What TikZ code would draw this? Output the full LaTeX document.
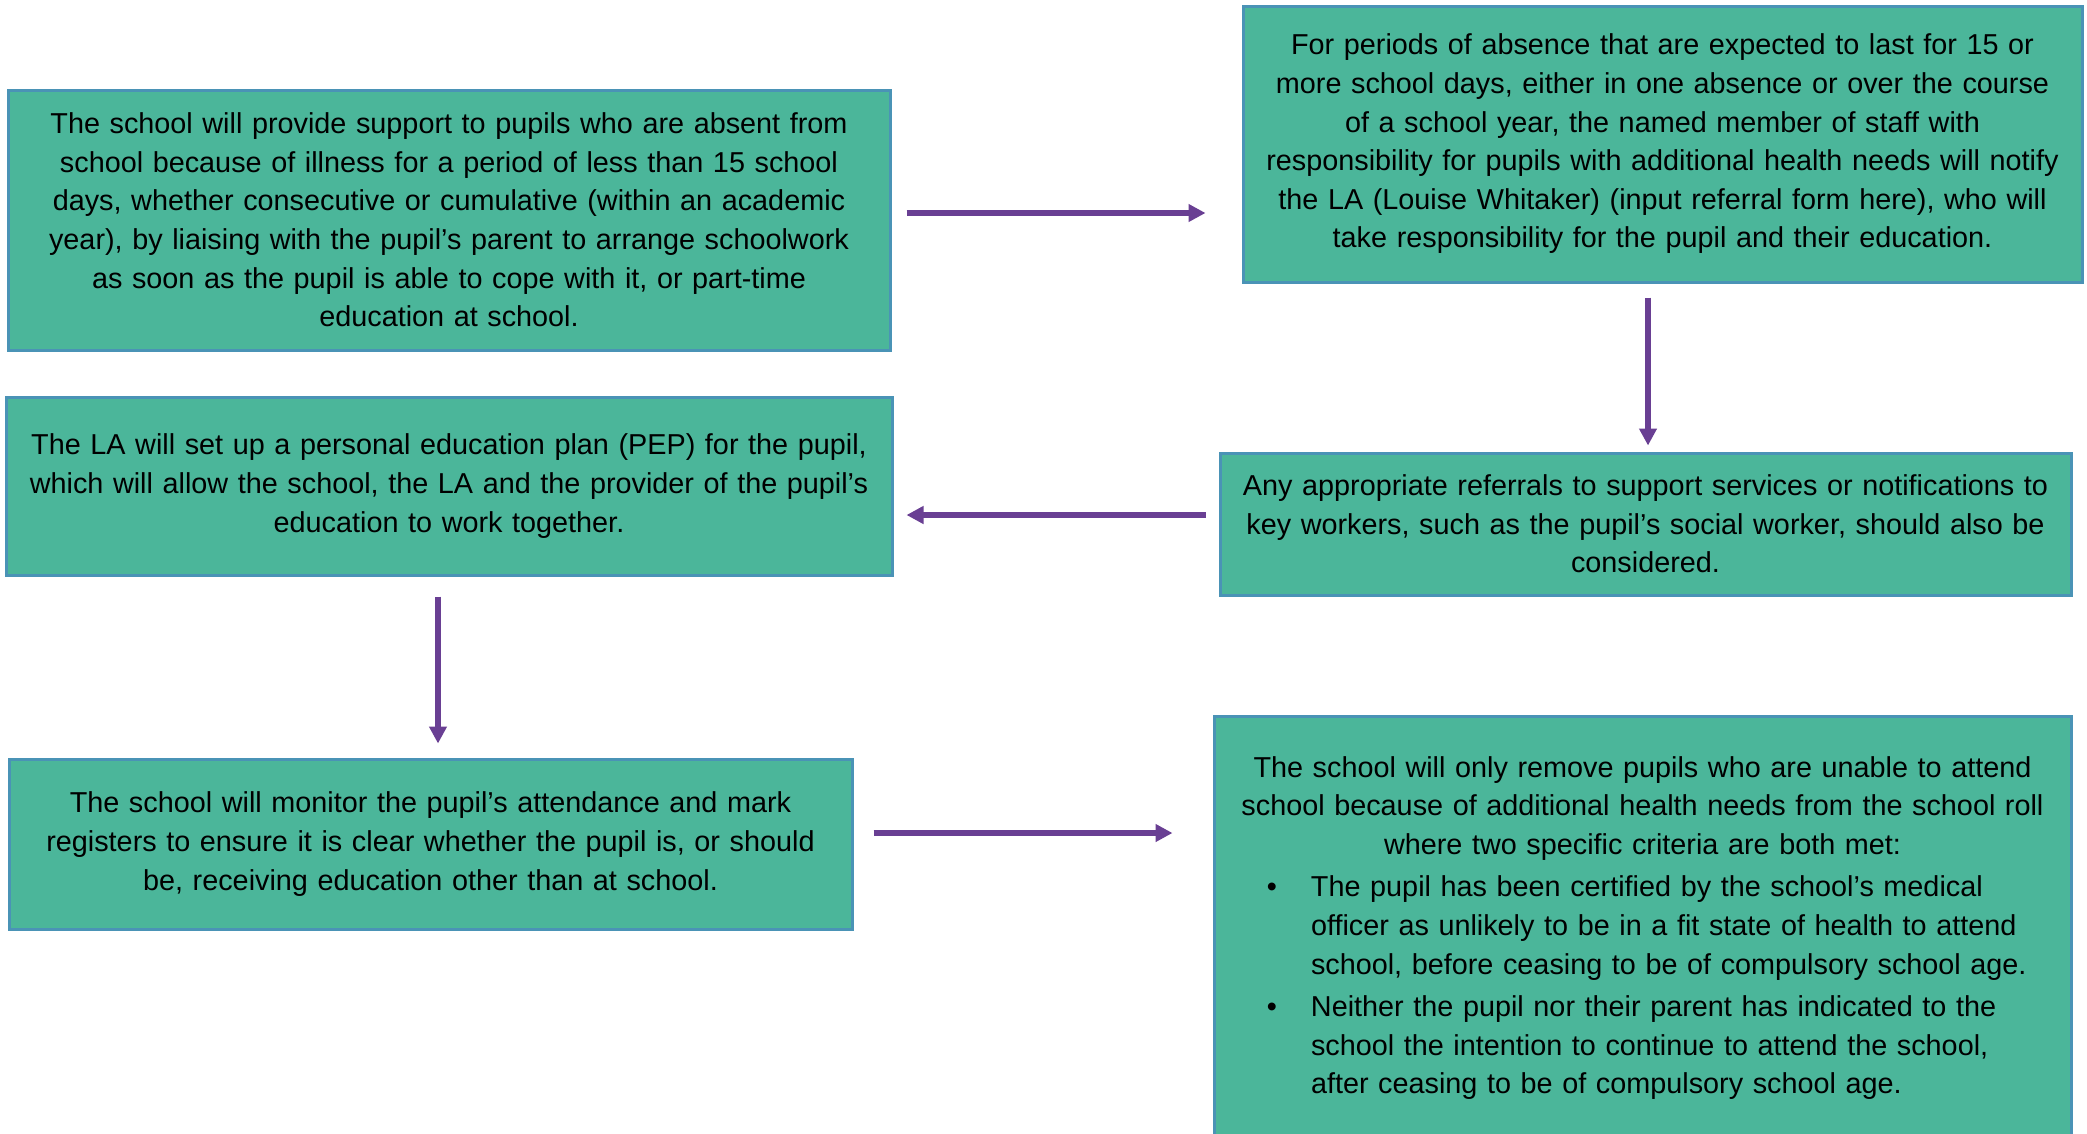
\documentclass[tikz,border=0pt]{standalone}
\usepackage{fontspec}
\setmainfont{Liberation Sans}
\usetikzlibrary{arrows.meta}
\definecolor{boxfill}{HTML}{4BB69A}
\definecolor{boxline}{HTML}{4A93B6}
\definecolor{arrowcol}{HTML}{693F93}
\begin{document}
\begin{tikzpicture}[x=1pt,y=-1pt,
  box/.style={draw=boxline, fill=boxfill, line width=3pt, rectangle, inner sep=0pt,
    font=\fontsize{28.8}{38.6}\selectfont},
  flow/.style={draw=arrowcol, line width=6pt, -{Triangle[length=17pt,width=17pt]}}]
\useasboundingbox (0,0) rectangle (2087,1133);
\clip (0,0) rectangle (2087,1133);
\fill[white] (0,0) rectangle (2087,1133);

\node[box, minimum width=882pt, minimum height=260pt, text width=870pt, align=center]
  (b1) at (449,220) {The school will provide support to pupils who are absent from\\
school because of illness for a period of less than 15 school\\
days, whether consecutive or cumulative (within an academic\\
year), by liaising with the pupil’s parent to arrange schoolwork\\
as soon as the pupil is able to cope with it, or part-time\\
education at school.};

\node[box, minimum width=839pt, minimum height=276pt, text width=832pt, align=center]
  (b2) at (1662.5,144) {For periods of absence that are expected to last for 15 or\\
more school days, either in one absence or over the course\\
of a school year, the named member of staff with\\
responsibility for pupils with additional health needs will notify\\
the LA (Louise Whitaker) (input referral form here), who will\\
take responsibility for the pupil and their education.};

\node[box, minimum width=886pt, minimum height=178pt, text width=878pt, align=center]
  (b3) at (449,486) {The LA will set up a personal education plan (PEP) for the pupil,\\
which will allow the school, the LA and the provider of the pupil’s\\
education to work together.};

\node[box, minimum width=851pt, minimum height=142pt, text width=845pt, align=center]
  (b4) at (1645.5,524) {Any appropriate referrals to support services or notifications to\\
key workers, such as the pupil’s social worker, should also be\\
considered.};

\node[box, minimum width=843pt, minimum height=170pt, text width=830pt, align=center]
  (b5) at (430.5,844) {The school will monitor the pupil’s attendance and mark\\
registers to ensure it is clear whether the pupil is, or should\\
be, receiving education other than at school.};

\node[box, minimum width=857pt, minimum height=424pt, text width=820pt]
  (b6) at (1642.5,928) {\centering The school will only remove pupils who are unable to attend\\
school because of additional health needs from the school roll\\
where two specific criteria are both met:\par\vspace{4pt}
\raggedright\leftskip=78.5pt\parindent=0pt
\leavevmode\llap{\textbullet\hspace{34pt}}The pupil has been certified by the school’s medical\\
officer as unlikely to be in a fit state of health to attend\\
school, before ceasing to be of compulsory school age.\par\vspace{4pt}
\leavevmode\llap{\textbullet\hspace{34pt}}Neither the pupil nor their parent has indicated to the\\
school the intention to continue to attend the school,\\
after ceasing to be of compulsory school age.\par};

\coordinate (y1) at (0,213);
\coordinate (x2) at (1648,0);
\coordinate (y3) at (0,515);
\coordinate (x4) at (438,0);
\coordinate (y5) at (0,833);

\draw[flow, shorten <=15pt, shorten >=36pt] (b1.east |- y1) -- (b2.west |- y1);
\draw[flow, shorten <=14pt, shorten >=6pt] (b2.south -| x2) -- (b4.north -| x2);
\draw[flow, shorten <=13pt, shorten >=13pt] (b4.west |- y3) -- (b3.east |- y3);
\draw[flow, shorten <=20pt, shorten >=14pt] (b3.south -| x4) -- (b5.north -| x4);
\draw[flow, shorten <=20pt, shorten >=40pt] (b5.east |- y5) -- (b6.west |- y5);
\end{tikzpicture}
\end{document}
